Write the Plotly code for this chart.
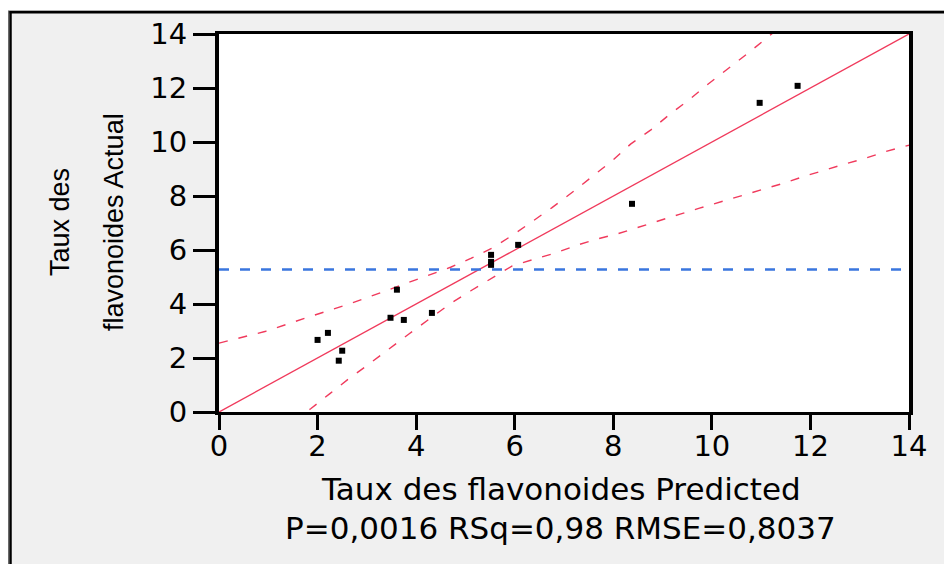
import numpy as np
import plotly.graph_objects as go

# Predicted vs actual flavonoid content (one point per sample)
predicted = [2.00, 2.21, 2.50, 2.43, 3.48, 3.61, 3.75, 4.32, 5.52, 5.52, 5.52, 6.07, 8.38, 10.97, 11.74]
actual = [2.67, 2.93, 2.27, 1.90, 3.49, 4.53, 3.41, 3.67, 5.82, 5.56, 5.45, 6.19, 7.71, 11.45, 12.08]

# Fitted line (actual on predicted)
fit_x = [0, 14]
fit_y = [0, 14]

# Confidence curves around the fit
upper_x = [0.0, 0.93, 1.79, 2.61, 3.43, 4.29, 4.71, 5.11, 5.53, 5.96, 6.34, 6.75, 7.20, 7.60,
           8.00, 8.35, 8.77, 9.15, 9.55, 9.92, 10.32, 10.72, 11.09, 11.45]
upper_y = [2.55, 2.98, 3.50, 3.98, 4.52, 5.09, 5.37, 5.69, 6.06, 6.55, 7.03, 7.56, 8.18, 8.75,
           9.34, 9.92, 10.46, 11.03, 11.58, 12.14, 12.69, 13.27, 13.82, 14.35]
lower_x = [1.50, 1.86, 2.25, 2.61, 3.01, 3.42, 3.86, 4.28, 4.70, 5.11, 5.53, 5.95, 6.38, 6.81,
           7.30, 7.70, 8.07, 8.49, 8.90, 9.34, 9.75, 10.17, 10.59, 11.01, 11.43, 11.86, 12.27,
           12.69, 13.12, 13.53, 14.00]
lower_y = [-0.33, 0.12, 0.68, 1.20, 1.73, 2.30, 2.90, 3.46, 4.02, 4.49, 4.94, 5.41, 5.65, 5.88,
           6.20, 6.42, 6.59, 6.84, 7.06, 7.32, 7.55, 7.78, 7.99, 8.24, 8.46, 8.72, 8.96,
           9.18, 9.40, 9.65, 9.88]

x_ticks = [0, 2, 4, 6, 8, 10, 12, 14]
y_ticks = [0, 2, 4, 6, 8, 10, 12, 14]

x_title = "Taux des flavonoides Predicted"
stats_line = "P=0,0016 RSq=0,98 RMSE=0,8037"
y_title_lines = ["Taux des", "flavonoides Actual"]

mean_actual = float(np.mean(actual))

RED = "rgb(240,58,92)"
BLUE = "rgb(58,118,222)"

W, H = 944, 564
L, R, T, B = 219, 35, 34, 152
PW, PH = W - L - R, H - T - B


def xp(px):
    return (px - L) / PW


def yp(py):
    return (H - B - py) / PH


fig = go.Figure()

for bx, by in ((upper_x, upper_y), (lower_x, lower_y)):
    fig.add_trace(go.Scatter(x=bx, y=by, mode="lines",
                             line=dict(color=RED, width=1.4, dash="9px,11px"),
                             hoverinfo="skip"))

fig.add_trace(go.Scatter(x=fit_x, y=fit_y, mode="lines",
                         line=dict(color=RED, width=1.4), hoverinfo="skip"))

fig.add_trace(go.Scatter(x=[x_ticks[0], x_ticks[-1]], y=[mean_actual, mean_actual], mode="lines",
                         line=dict(color=BLUE, width=2.5, dash="10px,11px"), hoverinfo="skip"))

fig.add_trace(go.Scatter(x=predicted, y=actual, mode="markers",
                         marker=dict(symbol="square", size=6, color="black",
                                     line=dict(width=0))))

tick_font = dict(family="DejaVu Sans", size=29, color="black")

fig.update_xaxes(range=[0, 14], tickvals=x_ticks, ticktext=[str(v) for v in x_ticks],
                 ticks="outside", ticklen=15, tickwidth=3, tickcolor="black",
                 ticklabelstandoff=-9,
                 showline=True, linecolor="black", linewidth=3, mirror=True,
                 showgrid=False, zeroline=False, tickfont=tick_font)
fig.update_yaxes(range=[0, 14], tickvals=y_ticks, ticktext=[str(v) for v in y_ticks],
                 ticks="outside", ticklen=22, tickwidth=3, tickcolor="black",
                 showline=True, linecolor="black", linewidth=4, mirror=True,
                 showgrid=False, zeroline=False, tickfont=tick_font)

# window frame: white strip at left/top, dark edge lines
shapes = [
    dict(type="rect", xref="paper", yref="paper", x0=xp(-20), x1=xp(8), y0=yp(H + 20), y1=yp(-20),
         fillcolor="white", line=dict(width=0)),
    dict(type="rect", xref="paper", yref="paper", x0=xp(-20), x1=xp(W + 20), y0=yp(10), y1=yp(-20),
         fillcolor="white", line=dict(width=0)),
    dict(type="line", xref="paper", yref="paper", x0=xp(8.5), x1=xp(8.5), y0=yp(11), y1=yp(H + 20),
         line=dict(color="#6a6a6a", width=1)),
    dict(type="line", xref="paper", yref="paper", x0=xp(10.5), x1=xp(10.5), y0=yp(11), y1=yp(H + 20),
         line=dict(color="black", width=2.5)),
    dict(type="line", xref="paper", yref="paper", x0=xp(8), x1=xp(W + 20), y0=yp(10.5), y1=yp(10.5),
         line=dict(color="#b0b0b0", width=1)),
    dict(type="line", xref="paper", yref="paper", x0=xp(9.5), x1=xp(W + 20), y0=yp(12.3), y1=yp(12.3),
         line=dict(color="black", width=2.5)),
]

title_font = dict(family="DejaVu Sans", size=31, color="black")
ytitle_font = dict(family="Liberation Sans", size=27, color="black")

annotations = [
    dict(text=x_title, xref="paper", yref="paper", x=xp(561), y=yp(489),
         xanchor="center", yanchor="middle", showarrow=False, font=title_font),
    dict(text=stats_line, xref="paper", yref="paper", x=xp(560), y=yp(528),
         xanchor="center", yanchor="middle", showarrow=False, font=title_font),
    dict(text=y_title_lines[0], xref="paper", yref="paper", x=xp(60), y=yp(222),
         xanchor="center", yanchor="middle", showarrow=False, textangle=-90, font=ytitle_font),
    dict(text=y_title_lines[1], xref="paper", yref="paper", x=xp(114), y=yp(222),
         xanchor="center", yanchor="middle", showarrow=False, textangle=-90, font=ytitle_font),
]

fig.update_layout(width=W, height=H, margin=dict(l=L, r=R, t=T, b=B, pad=0),
                  paper_bgcolor="#f0f0f0", plot_bgcolor="white", showlegend=False,
                  shapes=shapes, annotations=annotations)

fig.write_html("out.html")
